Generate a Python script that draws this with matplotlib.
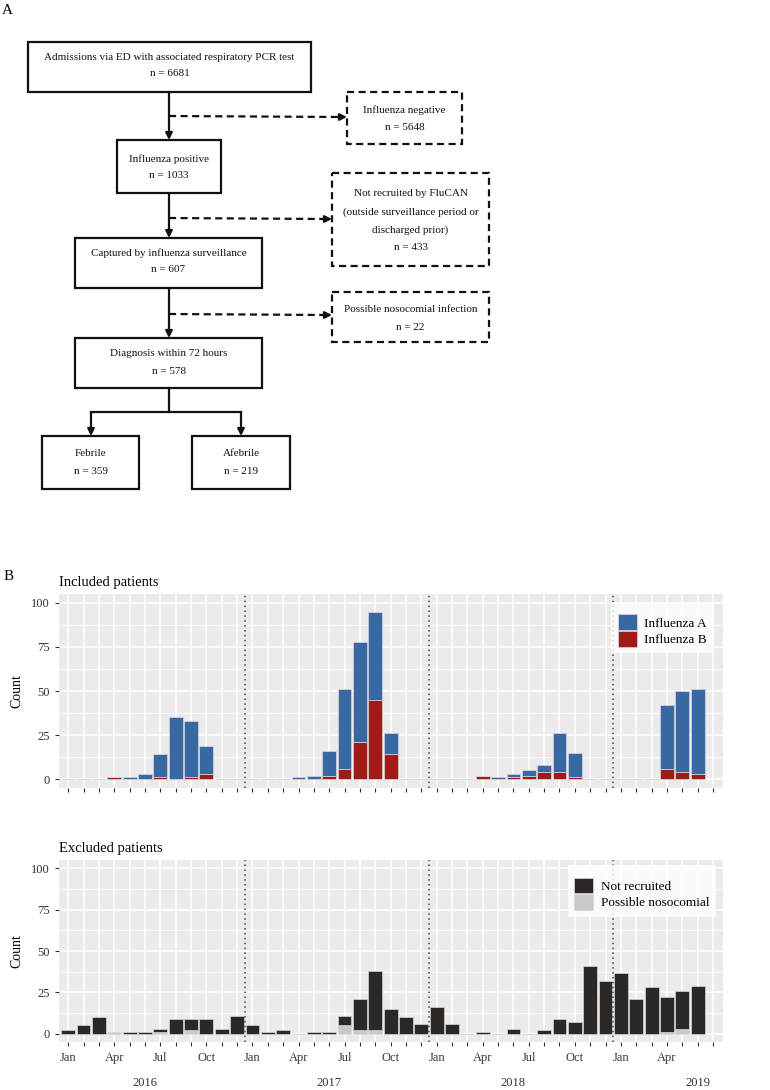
import matplotlib
matplotlib.use("Agg")
import matplotlib.pyplot as plt
from matplotlib.patches import Rectangle, Patch
import numpy as np

# ---------------- data ----------------
flow_labels = [
    "Admissions via ED with associated respiratory PCR test",
    "Influenza negative",
    "Influenza positive",
    "Not recruited by FluCAN\n(outside surveillance period or\ndischarged prior)",
    "Captured by influenza surveillance",
    "Possible nosocomial infection",
    "Diagnosis within 72 hours",
    "Febrile",
    "Afebrile",
]
flow_counts = [6681, 5648, 1033, 433, 607, 22, 578, 359, 219]

month_names = ["Jan", "Feb", "Mar", "Apr", "May", "Jun",
               "Jul", "Aug", "Sep", "Oct", "Nov", "Dec"]
years = [2016, 2017, 2018, 2019]

# monthly counts, Jan 2016 .. Jun 2019
flu_a = [0, 0, 0, 0, 1, 3, 13, 35, 32, 16, 0, 0,
         0, 0, 0, 1, 2, 14, 45, 57, 50, 12, 0, 0,
         0, 0, 0, 0, 1, 2, 3, 4, 22, 14, 0, 0,
         0, 0, 0, 36, 46, 48]
flu_b = [0, 0, 0, 1, 0, 0, 1, 0, 1, 3, 0, 0,
         0, 0, 0, 0, 0, 2, 6, 21, 45, 14, 0, 0,
         0, 0, 0, 2, 0, 1, 2, 4, 4, 1, 0, 0,
         0, 0, 0, 6, 4, 3]
not_recruited = [2, 5, 10, 0, 1, 1, 2, 9, 7, 9, 3, 11,
                 5, 1, 2, 0, 1, 1, 6, 19, 36, 15, 10, 6,
                 16, 6, 0, 1, 0, 3, 0, 2, 9, 7, 41, 32,
                 37, 21, 28, 21, 23, 29]
nosocomial = [0, 0, 0, 1, 0, 0, 1, 0, 2, 0, 0, 0,
              0, 0, 0, 0, 0, 0, 5, 2, 2, 0, 0, 0,
              0, 0, 0, 0, 0, 0, 0, 0, 0, 0, 0, 0,
              0, 0, 0, 1, 3, 0]

y_ticks = [0, 25, 50, 75, 100]

# ---------------- style ----------------
plt.rcParams["font.family"] = ["Liberation Serif", "DejaVu Serif"]
COL_A = "#3869A2"
COL_B = "#A21A17"
COL_NR = "#2B2826"
COL_NOS = "#C9C9C5"
EDGE = "#D8D8D8"
BG = "#EBEBEB"
TXT = "#333333"

fig = plt.figure(figsize=(7.7, 10.9), dpi=100)

# ---------------- flowchart (pixel coordinates) ----------------
fa = fig.add_axes([0, 0, 1, 1])
fa.set_xlim(0, 770)
fa.set_ylim(1090, 0)
fa.axis("off")

FS = 8.0
LW = 1.6
DASH = (0, (3.2, 2.0))


def box(x0, y0, x1, y1, label, n, line_ys, dashed=False):
    fa.add_patch(Rectangle((x0, y0), x1 - x0, y1 - y0, fill=False,
                           edgecolor="#111111", lw=LW,
                           ls=DASH if dashed else "-", joinstyle="miter"))
    lines = label.split("\n") + ["n = %d" % n]
    cx = (x0 + x1) / 2
    for ln, yy in zip(lines, line_ys):
        fa.text(cx, yy, ln, ha="center", va="center", fontsize=FS,
                color="#111111")


def arrow(x0, y0, x1, y1):
    fa.annotate("", xy=(x1, y1), xytext=(x0, y0),
                arrowprops=dict(arrowstyle="-|>", lw=LW, color="#111111",
                                mutation_scale=10, shrinkA=0, shrinkB=0))


def dashed_arrow(x0, y0, x1, y1):
    fa.plot([x0, x1 - 7], [y0, y1], color="#111111", lw=LW, ls=DASH,
            solid_capstyle="butt")
    arrow(x1 - 8, y1, x1, y1)


box(28, 42, 311, 92, flow_labels[0], flow_counts[0], [57, 74])
box(347, 92, 462, 144, flow_labels[1], flow_counts[1], [110, 127], dashed=True)
box(117, 140, 221, 193, flow_labels[2], flow_counts[2], [159, 176])
box(332, 173, 489, 266, flow_labels[3], flow_counts[3], [194, 212, 230, 247], dashed=True)
box(75, 238, 262, 288, flow_labels[4], flow_counts[4], [253, 270])
box(332, 292, 489, 342, flow_labels[5], flow_counts[5], [309, 327], dashed=True)
box(75, 338, 262, 388, flow_labels[6], flow_counts[6], [353, 371])
box(42, 436, 139, 489, flow_labels[7], flow_counts[7], [454, 472])
box(192, 436, 290, 489, flow_labels[8], flow_counts[8], [454, 472])

arrow(169, 92, 169, 140)
arrow(169, 193, 169, 238)
arrow(169, 288, 169, 338)
dashed_arrow(169, 116, 347, 117)
dashed_arrow(169, 218, 332, 219)
dashed_arrow(169, 314, 332, 315)
fa.plot([169, 169], [388, 412], color="#111111", lw=LW)
fa.plot([91, 241], [412, 412], color="#111111", lw=LW, solid_capstyle="projecting")
arrow(91, 412, 91, 436)
arrow(241, 412, 241, 436)

fa.text(2, 10, "A", fontsize=11, va="center", ha="left")
fa.text(4, 577, "B", fontsize=11, va="center", ha="left")

# ---------------- bar panels ----------------
n = len(flu_a)
x = np.arange(n)
tick_pos = np.arange(n + 1)


def style_axes(ax):
    ax.set_facecolor(BG)
    for s in ax.spines.values():
        s.set_visible(False)
    ax.set_xlim(-0.6, n + 0.65)
    ax.set_ylim(-5, 105)
    ax.set_xticks(tick_pos)
    ax.set_yticks(y_ticks)
    ax.set_yticks([12.5, 37.5, 62.5, 87.5], minor=True)
    ax.set_axisbelow(True)
    ax.grid(which="major", color="white", lw=1.1)
    ax.grid(which="minor", axis="y", color="white", lw=0.55)
    ax.tick_params(axis="both", which="major", length=3, width=0.8,
                   color=TXT, labelsize=9, labelcolor=TXT)
    ax.tick_params(axis="y", which="minor", length=0)
    ax.tick_params(axis="x", pad=4)
    ax.set_ylabel("Count", fontsize=10, labelpad=6)
    for xv in (11.5, 23.5, 35.5):
        ax.axvline(xv, color="#444444", lw=1.1, ls=(0, (1, 2.2)), zorder=3)


def add_legend(ax, handles, anchor):
    lg = ax.legend(handles=handles, loc="upper right", bbox_to_anchor=anchor,
                   borderaxespad=0, frameon=True, fancybox=False, fontsize=9.5,
                   handlelength=1.45, handleheight=1.45, labelspacing=0.08,
                   handletextpad=0.55, borderpad=0.5,
                   title=" ", title_fontsize=4)
    lg.get_frame().set_edgecolor("white")
    lg.get_frame().set_linewidth(0)
    lg.set_zorder(5)
    return lg


ax1 = fig.add_axes([59 / 770, 1 - 788 / 1090, 664 / 770, 194 / 1090])
style_axes(ax1)
ax1.bar(x, flu_b, width=0.9, color=COL_B, edgecolor=EDGE, lw=0.5, zorder=2)
ax1.bar(x, flu_a, width=0.9, bottom=flu_b, color=COL_A, edgecolor=EDGE,
        lw=0.5, zorder=2)
ax1.set_xticklabels([])
ax1.set_title("Included patients", loc="left", fontsize=10.5, pad=6)
h1 = [Patch(facecolor=COL_A, edgecolor=EDGE, lw=0.5, label="Influenza A"),
      Patch(facecolor=COL_B, edgecolor=EDGE, lw=0.5, label="Influenza B")]
add_legend(ax1, h1, (0.986, 0.96))

ax2 = fig.add_axes([59 / 770, 1 - 1042 / 1090, 664 / 770, 182 / 1090])
style_axes(ax2)
ax2.bar(x, nosocomial, width=0.9, color=COL_NOS, edgecolor=EDGE, lw=0.5, zorder=2)
ax2.bar(x, not_recruited, width=0.9, bottom=nosocomial, color=COL_NR,
        edgecolor=EDGE, lw=0.5, zorder=2)
ax2.set_xticklabels([month_names[i % 12] if (i % 3 == 0 and i < n) else ""
                     for i in tick_pos])
ax2.set_title("Excluded patients", loc="left", fontsize=10.5, pad=6)
for k, yr in enumerate(years):
    ax2.text(12 * k + 5, -0.225, str(yr), transform=ax2.get_xaxis_transform(),
             ha="center", va="center", fontsize=9, color=TXT)
h2 = [Patch(facecolor=COL_NR, edgecolor=EDGE, lw=0.5, label="Not recruited"),
      Patch(facecolor=COL_NOS, edgecolor=EDGE, lw=0.5, label="Possible nosocomial")]
add_legend(ax2, h2, (0.989, 0.973))

fig.savefig("out.png", dpi=100, facecolor="white")
